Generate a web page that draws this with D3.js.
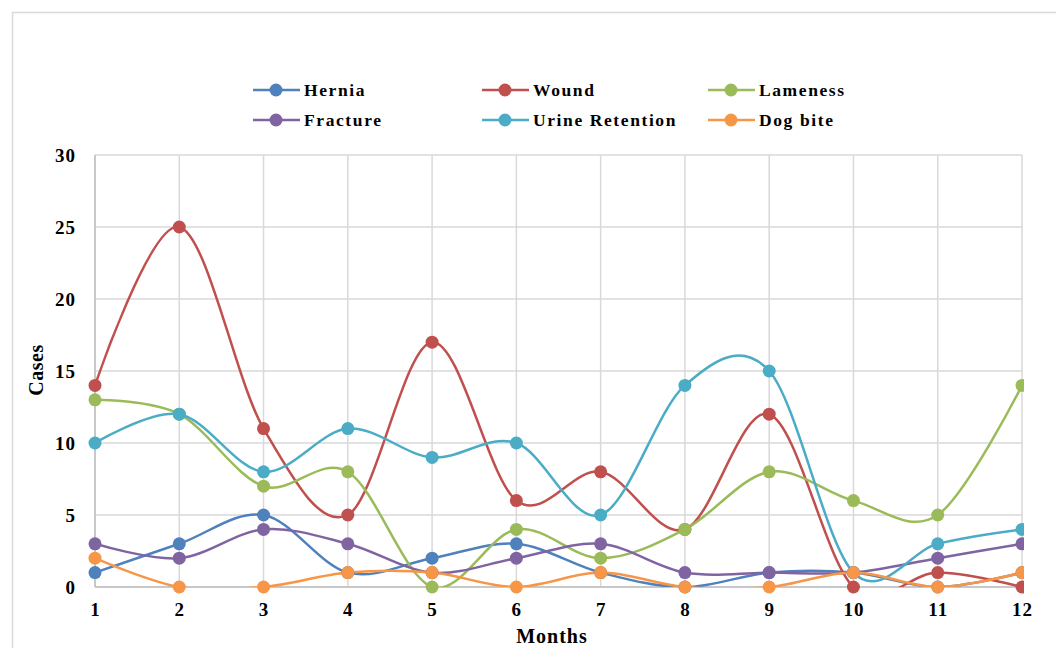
<!DOCTYPE html>
<html><head><meta charset="utf-8">
<script src="https://cdn.jsdelivr.net/npm/d3@7"></script>
<style>body{margin:0;background:#fff}svg{display:block}text{font-family:"Liberation Serif","Times New Roman",serif;font-weight:bold;fill:#000}</style>
</head><body><svg id="c" width="1056" height="648"></svg>
<script>
const months = [1,2,3,4,5,6,7,8,9,10,11,12];
const seriesNames = ["Hernia","Wound","Lameness","Fracture","Urine Retention","Dog bite"];
const hernia   = [1,3,5,1,2,3,1,0,1,1,0,1];
const wound    = [14,25,11,5,17,6,8,4,12,0,1,0];
const lameness = [13,12,7,8,0,4,2,4,8,6,5,14];
const fracture = [3,2,4,3,1,2,3,1,1,1,2,3];
const urine    = [10,12,8,11,9,10,5,14,15,1,3,4];
const dogbite  = [2,0,0,1,1,0,1,0,0,1,0,1];
const yTicks = [0,5,10,15,20,25,30];
const colors = ["#4F81BD","#C0504D","#9BBB59","#8064A2","#4BACC6","#F79646"];
const allSeries = [hernia,wound,lameness,fracture,urine,dogbite];

const svg = d3.select("#c");
const L=95,R=1022,T=155,B=587;
const x = d3.scaleLinear().domain([1,12]).range([L,R]);
const y = d3.scaleLinear().domain([0,30]).range([B,T]);

const defs = svg.append("defs");
defs.append("clipPath").attr("id","plot").append("rect").attr("x",L).attr("y",T).attr("width",R-L).attr("height",B-T);
defs.append("clipPath").attr("id","img").append("rect").attr("x",0).attr("y",0).attr("width",1024).attr("height",648);

const root = svg.append("g");
// outer frame
root.append("path").attr("d","M12.5,648 V12.5 H1056").attr("fill","none").attr("stroke","#d9d9d9").attr("stroke-width",1.5);

// gridlines
root.append("g").selectAll("line").data(yTicks).join("line")
  .attr("x1",L).attr("x2",R).attr("y1",d=>y(d)).attr("y2",d=>y(d))
  .attr("stroke","#d9d9d9").attr("stroke-width",1.5);
root.append("g").selectAll("line").data(months).join("line")
  .attr("x1",d=>x(d)).attr("x2",d=>x(d)).attr("y1",T).attr("y2",B)
  .attr("stroke","#d9d9d9").attr("stroke-width",1.5);
// axes lines
root.append("line").attr("x1",L).attr("x2",L).attr("y1",T).attr("y2",B).attr("stroke","#bfbfbf").attr("stroke-width",1.5);
root.append("line").attr("x1",L).attr("x2",R).attr("y1",B).attr("y2",B).attr("stroke","#bfbfbf").attr("stroke-width",1.5);

// axes via d3
const yAxis = root.append("g").attr("transform",`translate(${L},0)`)
  .call(d3.axisLeft(y).tickValues(yTicks).tickSize(0).tickPadding(19));
yAxis.select(".domain").remove();
yAxis.selectAll("text").attr("font-size",19).attr("letter-spacing","1px").attr("font-family","Liberation Serif").attr("font-weight","bold").attr("dy","0.35em");
const xAxis = root.append("g").attr("transform",`translate(0,${B})`)
  .call(d3.axisBottom(x).tickValues(months).tickFormat(d3.format("d")).tickSize(0).tickPadding(16));
xAxis.select(".domain").remove();
xAxis.selectAll("text").attr("font-size",19).attr("letter-spacing","1px").attr("font-family","Liberation Serif").attr("font-weight","bold");

// axis titles
root.append("text").attr("x",552).attr("y",643).attr("text-anchor","middle").attr("font-size",20).attr("letter-spacing","1px").text("Months");
root.append("text").attr("transform","translate(43,370) rotate(-90)").attr("text-anchor","middle").attr("font-size",20).attr("letter-spacing","0.5px").text("Cases");

// lines
const line = d3.line().x((d,i)=>x(months[i])).y(d=>y(d)).curve(d3.curveCardinal.tension(0));
const sg = root.append("g").attr("clip-path","url(#img)");
const lg = sg.append("g").attr("clip-path","url(#plot)");
allSeries.forEach((s,k)=>{
  lg.append("path").attr("d",line(s)).attr("fill","none").attr("stroke",colors[k]).attr("stroke-width",2.5);
});
allSeries.forEach((s,k)=>{
  sg.append("g").selectAll("circle").data(s).join("circle")
    .attr("cx",(d,i)=>x(months[i])).attr("cy",d=>y(d)).attr("r",6.5).attr("fill",colors[k]);
});

// legend
const legX = [253,482,708], legY=[90,120];
seriesNames.forEach((n,k)=>{
  const gx = legX[k%3], gy = legY[Math.floor(k/3)];
  const g = root.append("g");
  g.append("line").attr("x1",gx).attr("x2",gx+47).attr("y1",gy).attr("y2",gy).attr("stroke",colors[k]).attr("stroke-width",2.5);
  g.append("circle").attr("cx",gx+23).attr("cy",gy).attr("r",6.5).attr("fill",colors[k]);
  g.append("text").attr("x",gx+51).attr("y",gy).attr("dy","0.33em").attr("font-size",17.5).attr("letter-spacing","1.6px").text(n);
});
</script></body></html>
